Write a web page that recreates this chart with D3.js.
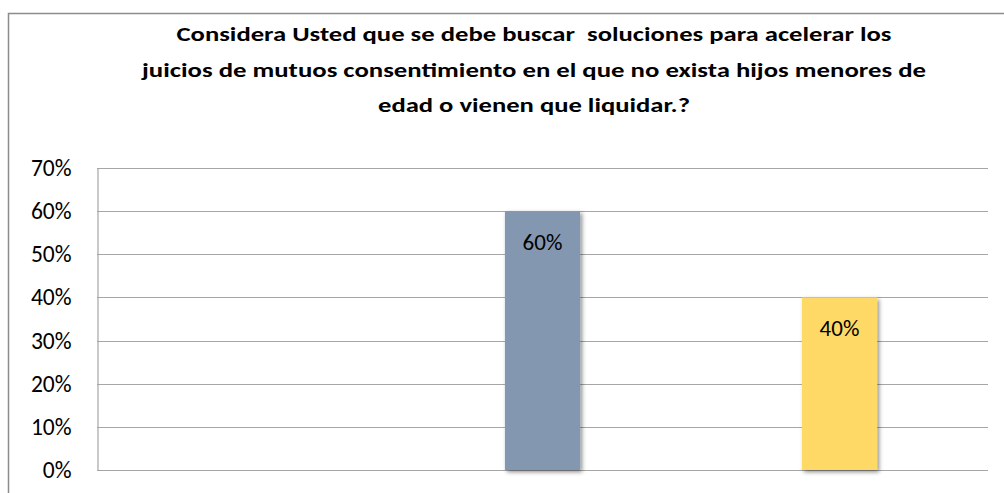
<!DOCTYPE html>
<html lang="es">
  <head>
    <script src="https://d3js.org/d3.v7.min.js"></script>
    <meta charset="UTF-8" />
    <title>Grafico</title>
    <style>
      body { margin: 0; background: #fff; }
      text { font-family: Carlito, Lato, "Liberation Sans", sans-serif; }
    </style>
  </head>
  <body>
    <svg width="1004" height="493"></svg>
    <script>
      // data
      var categories = ["", "SI", "NO"];
      var values = [0, 0.6, 0.4];
      var barColors = ["#8497B0", "#8497B0", "#FFD966"];
      var yTicks = [0, 0.1, 0.2, 0.3, 0.4, 0.5, 0.6, 0.7];
      var titleLines = [
        "Considera Usted que se debe buscar  soluciones para acelerar los",
        "juicios de mutuos consentimiento en el que no exista hijos menores de",
        "edad o vienen que liquidar.?"
      ];
      var titleWidths = [715, 784, 312];

      var svg = d3.select("svg");

      // drop shadow for the bars
      var defs = svg.append("defs");
      var f = defs.append("filter").attr("id", "shadow")
        .attr("x", "-20%").attr("y", "-5%").attr("width", "150%").attr("height", "115%");
      f.append("feDropShadow")
        .attr("dx", 2).attr("dy", 2).attr("stdDeviation", 2)
        .attr("flood-color", "#000").attr("flood-opacity", 0.45);

      // chart border
      svg.append("path")
        .attr("d", "M8.5,493 V13.5 H1004")
        .attr("fill", "none")
        .attr("stroke", "#8c8c8c")
        .attr("stroke-width", 1.5);

      // title
      svg.append("g").selectAll("text")
        .data(titleLines)
        .enter()
        .append("text")
        .attr("x", 534)
        .attr("y", function (d, i) { return 41 + i * 35.5; })
        .attr("text-anchor", "middle")
        .attr("font-size", "21px")
        .attr("font-weight", "bold")
        .style("white-space", "pre")
        .attr("textLength", function (d, i) { return titleWidths[i]; })
        .attr("lengthAdjust", "spacingAndGlyphs")
        .text(function (d) { return d; });

      var plotLeft = 97, plotRight = 988, plotTop = 168, plotBottom = 470;

      var x = d3.scaleBand().domain(categories).range([plotLeft, plotRight]).padding(0);
      var y = d3.scaleLinear().domain([0, 0.7]).range([plotBottom, plotTop]);

      var g = svg.append("g");

      // gridlines
      g.selectAll(".grid")
        .data(yTicks)
        .enter()
        .append("line")
        .attr("class", "grid")
        .attr("x1", plotLeft)
        .attr("x2", plotRight)
        .attr("y1", function (d) { return Math.round(y(d)) + 0.5; })
        .attr("y2", function (d) { return Math.round(y(d)) + 0.5; })
        .attr("stroke", "#a6a6a6")
        .attr("stroke-width", 1.2);

      // y axis
      var yAxis = g.append("g")
        .attr("transform", "translate(" + (plotLeft + 0.5) + ",0)")
        .call(d3.axisLeft(y).tickValues(yTicks).tickFormat(d3.format(".0%")).tickSize(0).tickPadding(26));
      yAxis.select(".domain").attr("stroke", "#a6a6a6").attr("stroke-width", 1.2);
      yAxis.selectAll("text")
        .attr("font-size", "23.5px")
        .attr("fill", "#000")
        .style("font-family", "Carlito, Lato, 'Liberation Sans', sans-serif");

      // bars
      var bw = x.bandwidth() * 0.253;
      var idx = d3.range(values.length).filter(function (i) { return values[i] > 0; });
      g.selectAll(".bar")
        .data(idx)
        .enter()
        .append("rect")
        .attr("class", "bar")
        .attr("x", function (i) { return x(categories[i]) + (x.bandwidth() - bw) / 2; })
        .attr("y", function (i) { return y(values[i]); })
        .attr("width", bw)
        .attr("height", function (i) { return y(0) - y(values[i]); })
        .attr("fill", function (i) { return barColors[i]; })
        .attr("filter", "url(#shadow)");

      // value labels
      g.selectAll(".val")
        .data(idx)
        .enter()
        .append("text")
        .attr("class", "val")
        .attr("x", function (i) { return x(categories[i]) + x.bandwidth() / 2; })
        .attr("y", function (i) { return y(values[i]) + 39; })
        .attr("text-anchor", "middle")
        .attr("font-size", "23px")
        .attr("fill", "#000")
        .text(function (i) { return d3.format(".0%")(values[i]); });
    </script>
  </body>
</html>
